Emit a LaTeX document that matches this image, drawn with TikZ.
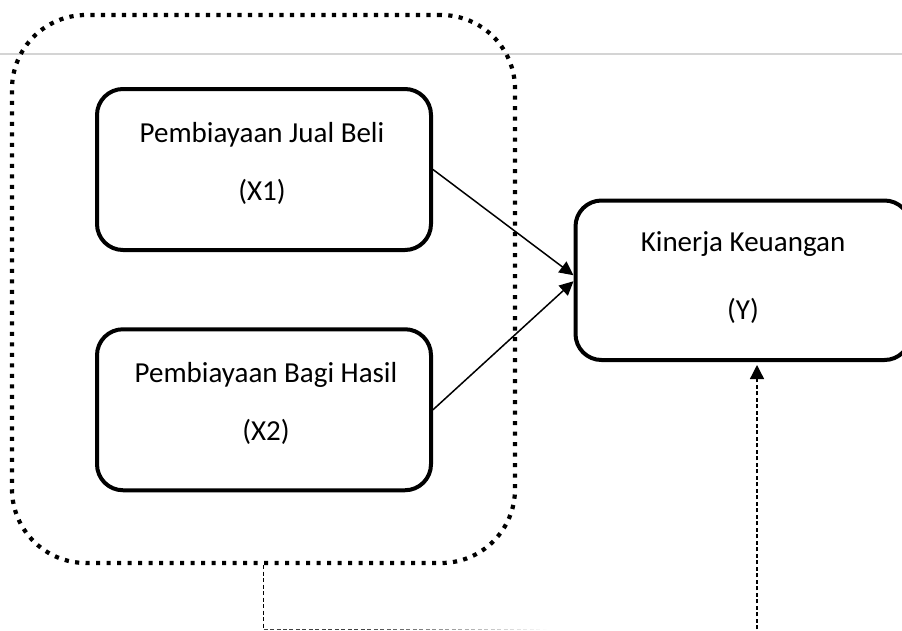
\documentclass[tikz,border=0pt]{standalone}
\usepackage{fontspec}
\setmainfont{Carlito}
\usetikzlibrary{arrows.meta,calc,fadings}
\definecolor{rulegray}{RGB}{212,212,212}
\begin{document}
\begin{tikzpicture}[x=1pt,y=1pt,
  box/.style={draw, line width=4pt, rounded corners=26pt, minimum width=334pt, minimum height=161pt, inner sep=0pt},
  grp/.style={draw, line width=4.2pt, rounded corners=74pt, dash pattern=on 4.2pt off 6.3pt, minimum width=503pt, minimum height=548pt, inner sep=0pt},
  lbl/.style={font=\fontsize{29}{35}\selectfont, anchor=base, inner sep=0pt},
  link/.style={line width=1.5pt, -{Triangle[length=14pt,width=13.5pt]}},
  dlink/.style={line width=1.3pt, dash pattern=on 4pt off 2.5pt},
]
\useasboundingbox (0,0) rectangle (902,-630);
\coordinate (gl) at (0,-54);
\coordinate (gr) at (902,-54);
\draw[line width=1.3pt, rulegray] (gl) -- (gr);

\node[grp] (G) at (263.5,-289) {};
\node[box] (X1) at (264,-169.5) {};
\node[box] (X2) at (264,-409.75) {};
\node[box, minimum width=335pt, minimum height=159.5pt] (Y) at (743,-280.25) {};

\node[lbl] (X1a) at (262,-142) {Pembiayaan Jual Beli};
\node[lbl] (X1b) at (262,-200) {(X1)};
\node[lbl] (X2a) at (266,-382) {Pembiayaan Bagi Hasil};
\node[lbl] (X2b) at (266,-440) {(X2)};
\node[lbl] (Ya) at (743,-251) {Kinerja Keuangan};
\node[lbl] (Yb) at (743,-319) {(Y)};

\draw[link] (X1.east) -- ($(Y.west)+(0,5)$);
\draw[link] (X2.east) -- ($(Y.west)+(0,-1)$);

\coordinate (bot) at (0,-629.3);
\coordinate (c1) at (G.south |- bot);
\coordinate (c2) at (643,-629.3);
\coordinate (c3) at (757,-629.3);
\draw[dlink] (G.south) -- (c1);
\draw[dlink, black!75, path fading=east, fit fading=false,
      fading transform={xshift=453pt, yshift=-629pt, xscale=3.8}] (c1) -- (c2);
\draw[dlink, -{Triangle[length=14pt,width=14pt]}, shorten >=3pt] (c3) -- (c3 |- Y.south);
\end{tikzpicture}
\end{document}
